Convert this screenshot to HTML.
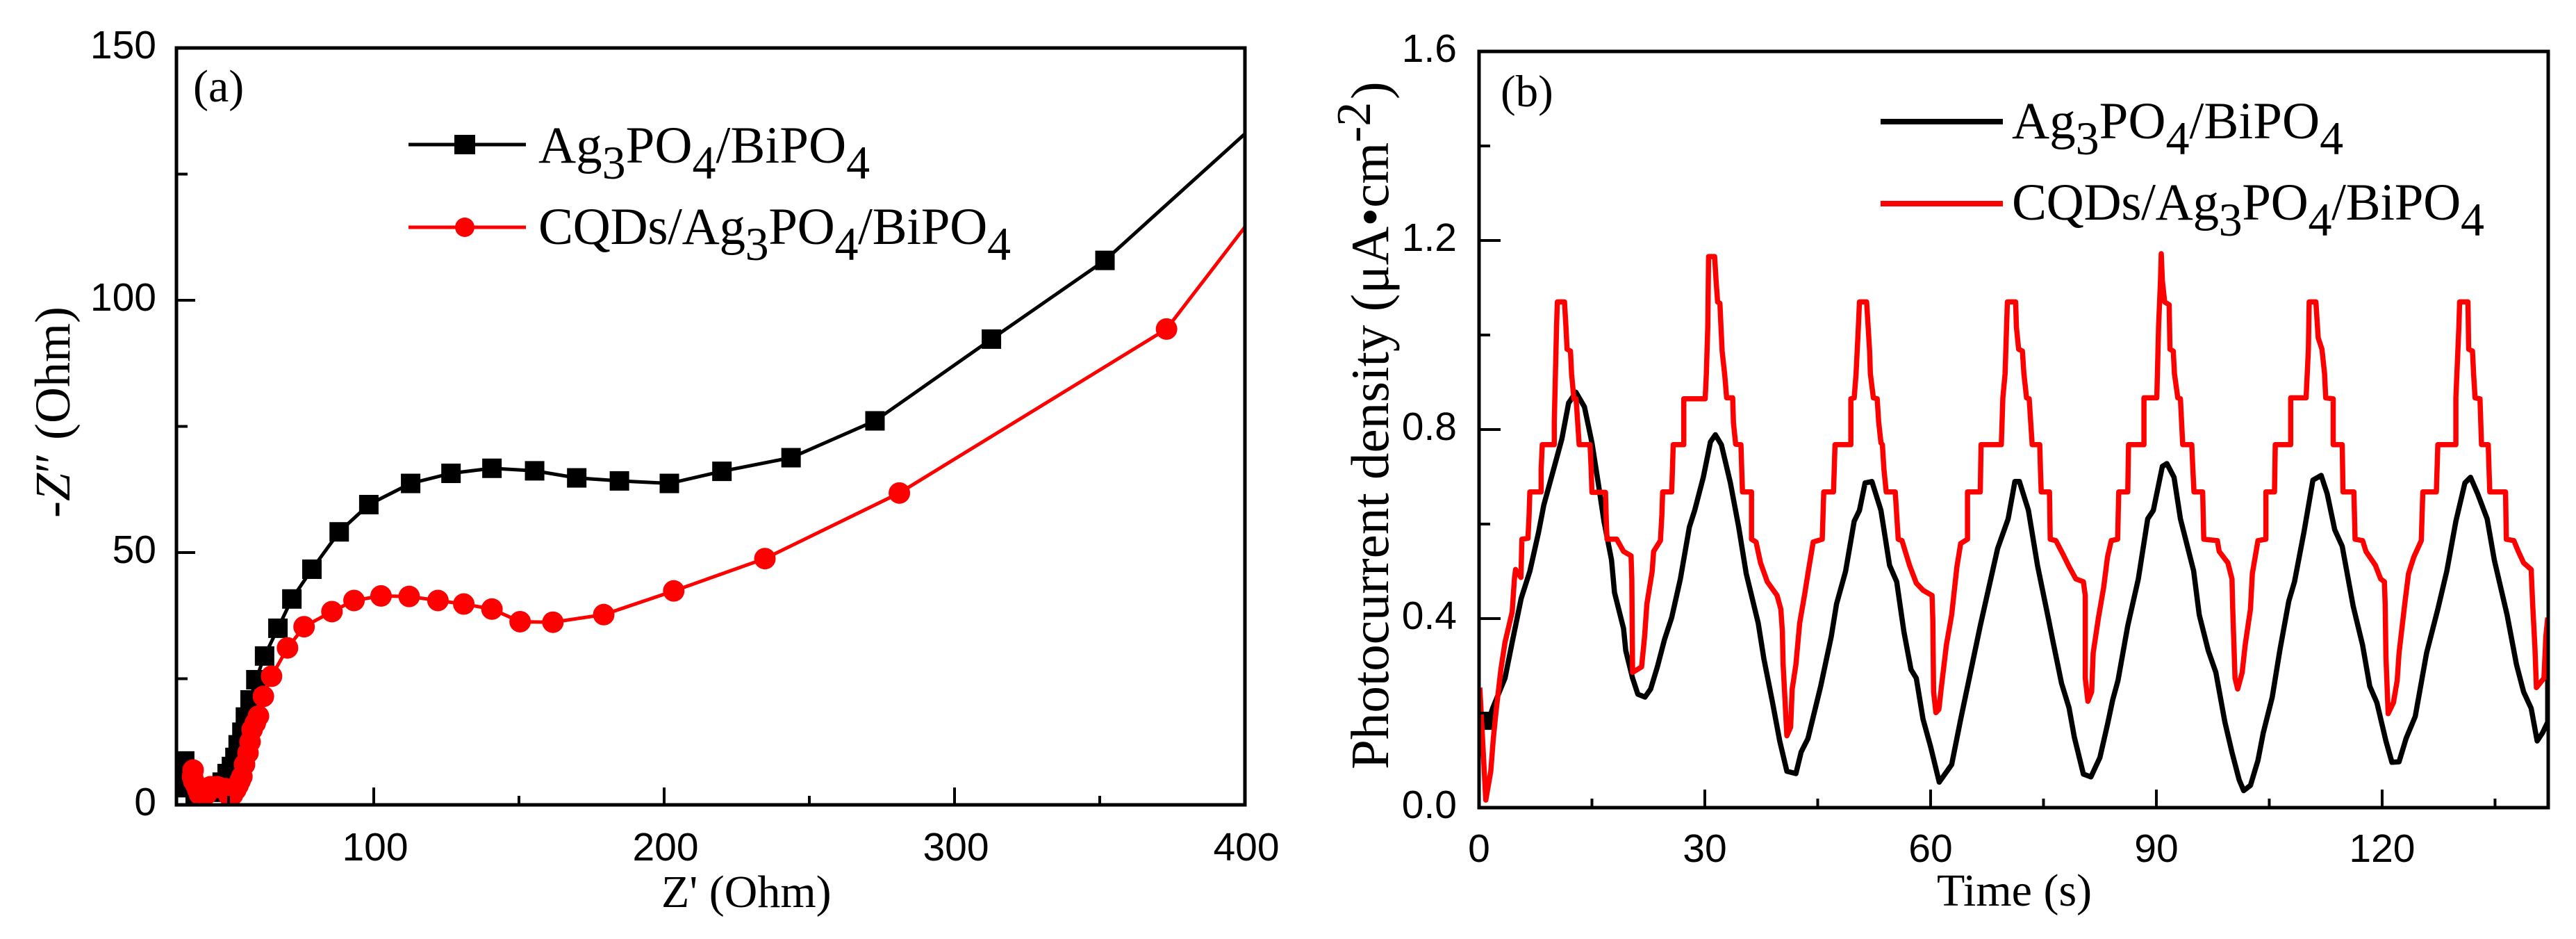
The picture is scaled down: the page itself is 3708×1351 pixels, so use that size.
<!DOCTYPE html>
<html lang="en">
<head>
<meta charset="utf-8">
<title>Impedance and photocurrent charts</title>
<style>
html,body{margin:0;padding:0;background:#fff;width:3708px;height:1351px;overflow:hidden}
svg{display:block}
.serif{font-family:"Liberation Serif",serif;fill:#000}
.sans{font-family:"Liberation Sans",sans-serif;fill:#000}
</style>
</head>
<body>
<svg id="fig" xmlns="http://www.w3.org/2000/svg" width="3708" height="1351" viewBox="0 0 3708 1351">
  <defs>
    <clipPath id="clipA"><rect x="254" y="69" width="1538" height="1089"/></clipPath>
    <clipPath id="clipB"><rect x="2129" y="74" width="1539" height="1088"/></clipPath>
  </defs>
  <rect width="3708" height="1351" fill="#fff"/>

  <g id="panelA"></g>
  <g id="panelB"></g>

  <text class="serif" x="278" y="146" font-size="66">(a)</text>
  <text class="serif" x="2160" y="153" font-size="65">(b)</text>

  <text class="serif" x="952" y="1305" font-size="66">Z' (Ohm)</text>
  <text class="serif" transform="translate(100,745) rotate(-90)" font-size="72">-<tspan font-style="italic">Z</tspan>″ (Ohm)</text>
  <text class="serif" x="2788" y="1303" font-size="66">Time (s)</text>
  <text class="serif" transform="translate(1998,1107) rotate(-90)" font-size="77">Photocurrent density (μA•cm</text>
  <text class="serif" transform="translate(1972,205) rotate(-90)" font-size="70">-2</text>
  <text class="serif" transform="translate(1998,143) rotate(-90)" font-size="77">)</text>

  <g>
    <line x1="588" y1="208" x2="757" y2="208" stroke="#000" stroke-width="5"/>
    <rect x="654" y="194" width="30" height="28" fill="#000"/>
    <text class="serif" x="775" y="234" font-size="75">Ag<tspan dy="23" font-size="68">3</tspan><tspan dy="-23">PO</tspan><tspan dy="23" font-size="68">4</tspan><tspan dy="-23">/BiPO</tspan><tspan dy="23" font-size="68">4</tspan></text>
    <line x1="588" y1="327" x2="757" y2="327" stroke="#f00" stroke-width="5"/>
    <circle cx="669" cy="327" r="14" fill="#f00"/>
    <text class="serif" x="775" y="351" font-size="75" textLength="680">CQDs/Ag<tspan dy="23" font-size="68">3</tspan><tspan dy="-23">PO</tspan><tspan dy="23" font-size="68">4</tspan><tspan dy="-23">/BiPO</tspan><tspan dy="23" font-size="68">4</tspan></text>
  </g>
  <g>
    <line x1="2707" y1="175" x2="2883" y2="175" stroke="#000" stroke-width="8"/>
    <text class="serif" x="2896" y="199" font-size="75">Ag<tspan dy="23" font-size="68">3</tspan><tspan dy="-23">PO</tspan><tspan dy="23" font-size="68">4</tspan><tspan dy="-23">/BiPO</tspan><tspan dy="23" font-size="68">4</tspan></text>
    <line x1="2707" y1="293" x2="2883" y2="293" stroke="#f00" stroke-width="8"/>
    <text class="serif" x="2896" y="316" font-size="75" textLength="680">CQDs/Ag<tspan dy="23" font-size="68">3</tspan><tspan dy="-23">PO</tspan><tspan dy="23" font-size="68">4</tspan><tspan dy="-23">/BiPO</tspan><tspan dy="23" font-size="68">4</tspan></text>
  </g>
</svg>
<script>
// ---- Panel (a) data ----
const aXMajor = [100, 200, 300, 400];
const aXMinor = [50, 150, 250, 350];
const aYMajor = [0, 50, 100, 150];
const aYMinor = [25, 75, 125];
const aBlackX = [34.9,34.2,36,38.5,41,43.8,46,47.8,49.5,51,52.2,53.3,54.6,55.8,57.4,59.4,62.4,67,71.8,78.7,88.1,98.3,112.7,126.6,140.7,155.4,169.9,184.6,201.8,219.9,243.7,272.6,312.7,351.8,420];
const aBlackY = [8.7,5.6,3.4,2,1.8,2.5,3.4,4.5,6.2,7.6,9.4,11.9,14.4,17.4,20.8,24.8,29.5,35,40.8,46.7,54.1,59.5,63.7,65.7,66.7,66.2,64.8,64.2,63.7,66.1,68.8,76.1,92.3,107.9,143.4];
const aRedX = [37.8,37.6,38,38.8,39.4,40,41.1,42.5,43.8,46,47.1,49,50.2,51.4,52.5,53.3,54,54.6,55.5,56.7,57.4,58.1,59.2,60.3,62,64.8,70.3,76,85.6,93.2,102.5,112.2,122.1,131,140.7,150.4,161.7,179.2,203.3,234.7,281,373,420];
const aRedY = [6.9,5.6,4.7,3.9,3,2.1,1.8,2.2,3.6,3.6,3.4,3.2,1.8,2,3,3.9,4.8,5.6,8,10.3,12.5,14.9,16.2,17.6,21.5,25.5,31.1,35.3,38.3,40.5,41.4,41.3,40.5,39.8,38.8,36.3,36.2,37.7,42.4,48.8,61.8,94.3,129.5];

// ---- Panel (b) data ----
const bXMajor = [0, 30, 60, 90, 120];
const bXMinor = [15, 45, 75, 105, 135];
const bYMajor = ["0.0", "0.4", "0.8", "1.2", "1.6"];
const bYMinor = [0.2, 0.6, 1.0, 1.4];
const bBlackT = [0.6,1.8,1.8,0.8,1.0,1.8,3.45,4.4,5.6,6.75,7.9,8.6,9.8,11,11.9,12.87,14,15,15.9,16.6,17.6,18,19.2,19.5,20.4,21.1,22.05,22.8,23.7,24.65,25.6,26.75,27.95,28.65,29.8,30.75,31.4,32.2,33.4,34.5,35.5,35.95,37.1,37.85,39,39.95,40.9,42.1,42.8,43.7,45.4,46.8,47.5,48.7,49.85,50.55,51.3,52.2,53.4,54.55,55.5,56.45,57.4,58.1,59,60,61.15,62.8,64,66.6,68.9,70.3,71.2,71.8,73,74.2,75.7,76.2,77.4,78.4,79.1,80.3,81.3,82.5,83.5,84.2,84.9,86.2,87.6,88.85,89.6,90.8,91.4,92.35,93.2,94.95,95.7,96.9,97.9,99.1,100.05,101,101.6,102.5,103.5,104.2,105.4,106.4,107.6,108.35,109.6,110.8,111.9,112.7,113.7,114.7,116.15,117.4,118.35,119.3,120.5,121.3,122.25,123.2,124.4,125.9,127.4,128.6,129.8,131,131.75,132.7,133.95,134.9,136.6,137.85,138.8,139.8,140.6,141.3,142,142];
const bBlackV = [0.17,0.17,0.196,0.196,0.17,0.21,0.274,0.35,0.443,0.5,0.582,0.64,0.71,0.78,0.856,0.879,0.848,0.772,0.681,0.606,0.524,0.455,0.379,0.332,0.274,0.24,0.234,0.251,0.298,0.356,0.402,0.484,0.594,0.629,0.699,0.774,0.789,0.768,0.687,0.594,0.495,0.466,0.39,0.315,0.222,0.141,0.077,0.072,0.118,0.146,0.257,0.362,0.431,0.5,0.606,0.629,0.687,0.69,0.629,0.513,0.478,0.373,0.292,0.274,0.187,0.129,0.054,0.091,0.187,0.385,0.548,0.611,0.69,0.69,0.629,0.513,0.396,0.356,0.263,0.211,0.149,0.071,0.065,0.106,0.176,0.228,0.269,0.385,0.484,0.611,0.629,0.722,0.728,0.699,0.611,0.501,0.408,0.332,0.286,0.181,0.117,0.059,0.036,0.047,0.1,0.158,0.234,0.332,0.437,0.478,0.582,0.693,0.703,0.664,0.588,0.553,0.426,0.344,0.257,0.222,0.141,0.096,0.097,0.147,0.193,0.327,0.42,0.501,0.606,0.687,0.699,0.664,0.611,0.524,0.408,0.303,0.245,0.21,0.141,0.158,0.181,0.36];
const bRedT = [0.1,0.9,1.56,1.9,2.27,2.9,3.45,4.4,4.7,4.86,5.57,5.7,6.5,6.65,6.75,8.25,8.25,8.4,10,10,10.3,10.4,11.35,11.55,11.7,12.15,12.3,12.6,12.9,13.1,13.3,14.75,14.9,15,16.8,16.9,17,18.3,19.2,20.2,20.3,20.4,21.6,22,22.3,23,23.2,24.1,24.3,24.4,25.6,25.7,25.8,27.2,27.2,30.05,30.2,30.4,30.5,31.3,31.5,31.7,32,32.3,32.65,32.9,33.7,33.8,34.1,34.8,34.9,35,36.2,36.2,36.8,37.4,38.3,39.6,40.1,40.3,40.4,40.6,40.9,41.4,41.6,42.1,42.6,43.3,43.7,44.4,45.6,45.7,45.8,47.1,47.2,47.3,49.4,49.4,49.85,50.1,50.4,50.55,51.5,51.7,51.9,52,52.4,52.9,53.1,53.4,53.6,53.8,54.1,55.3,55.7,56.2,57.2,58.1,59,60.2,60.3,60.4,60.7,61.1,61.4,62.1,62.8,63.5,64,64.9,64.9,66.6,66.7,69.4,69.6,69.9,70.1,70.2,71.3,71.4,71.7,72.2,72.4,72.75,73.1,73.5,74.5,74.6,74.7,75.8,75.9,76.65,77.6,78.4,79.3,80.3,80.55,80.55,80.9,81.4,81.6,82.3,83,83.5,84,84.85,85,86.2,86.3,88.35,88.35,90.06,90.3,90.55,90.65,90.8,91.1,91.7,91.8,92.25,92.4,92.85,93.2,93.5,94.7,94.85,95,96.15,96.3,98.1,98.35,99.5,100.05,100.15,100.45,100.8,101.4,101.8,102.5,102.75,103.5,104.55,104.55,105.7,105.8,107.85,107.85,109.9,110.2,110.3,111.2,111.5,112,112.35,112.5,113.5,113.5,114.7,114.8,116.25,116.4,117.4,117.85,119.1,119.8,120.3,120.4,120.5,120.8,121.5,122,122.25,123,123.5,124.2,125.2,125.4,127.2,127.4,129.8,129.8,130.2,130.3,131.4,131.5,132,132.15,132.35,133,133.2,134.1,134.2,134.3,136.4,136.5,137.5,138.1,138.8,139.8,140,140.3,140.5,141.5,141.75,142];
const bRedV = [0.254,0.016,0.077,0.147,0.205,0.292,0.35,0.414,0.484,0.504,0.487,0.568,0.57,0.617,0.668,0.668,0.716,0.768,0.768,0.817,1.02,1.07,1.07,1.017,0.97,0.966,0.918,0.865,0.865,0.817,0.768,0.768,0.716,0.667,0.667,0.611,0.568,0.568,0.542,0.533,0.484,0.286,0.298,0.362,0.431,0.5,0.542,0.565,0.62,0.668,0.668,0.716,0.768,0.768,0.865,0.865,0.918,1.02,1.166,1.166,1.115,1.07,1.067,0.966,0.915,0.867,0.867,0.814,0.769,0.768,0.716,0.668,0.668,0.568,0.562,0.518,0.478,0.449,0.42,0.373,0.303,0.245,0.152,0.17,0.25,0.303,0.39,0.455,0.495,0.562,0.568,0.617,0.668,0.668,0.716,0.768,0.768,0.865,0.867,0.918,1.017,1.07,1.07,1.017,0.966,0.918,0.867,0.865,0.817,0.772,0.768,0.716,0.668,0.668,0.568,0.565,0.513,0.475,0.46,0.449,0.396,0.245,0.201,0.208,0.25,0.344,0.408,0.51,0.559,0.568,0.668,0.668,0.768,0.768,0.867,0.918,1.02,1.07,1.07,1.017,0.97,0.966,0.918,0.867,0.865,0.768,0.768,0.716,0.668,0.668,0.568,0.565,0.536,0.51,0.484,0.478,0.449,0.274,0.225,0.245,0.327,0.402,0.466,0.53,0.565,0.568,0.668,0.668,0.768,0.768,0.867,0.867,1.02,1.115,1.172,1.115,1.07,1.064,0.97,0.966,0.918,0.867,0.865,0.768,0.768,0.716,0.668,0.668,0.568,0.565,0.542,0.518,0.484,0.42,0.274,0.251,0.286,0.344,0.42,0.495,0.565,0.568,0.668,0.668,0.768,0.768,0.867,0.867,0.97,1.07,1.07,0.994,0.97,0.918,0.867,0.865,0.768,0.768,0.668,0.668,0.568,0.565,0.542,0.513,0.484,0.478,0.431,0.32,0.199,0.222,0.269,0.327,0.431,0.495,0.53,0.565,0.668,0.668,0.768,0.768,0.867,1.02,1.07,1.07,0.97,0.966,0.918,0.867,0.865,0.768,0.768,0.716,0.668,0.668,0.568,0.565,0.542,0.518,0.504,0.431,0.338,0.254,0.274,0.362,0.402];

// ---- Axis functions ----
function ax(v){ return 538 + (v - 100) * 4.18; }
function ay(v){ return 1158 - v * 7.26; }
function bx(v){ return 2129 + v * 10.833; }
function by(v){ return 1162 - v * 680; }

const NS = 'http://www.w3.org/2000/svg';
function make(parent, tag, attrs){
  const el = document.createElementNS(NS, tag);
  for (const k in attrs) el.setAttribute(k, attrs[k]);
  parent.appendChild(el);
  return el;
}
function pathOf(xs, ys, fx, fy){
  return xs.map((x, i) => (i ? 'L' : 'M') + fx(x).toFixed(1) + ' ' + fy(ys[i]).toFixed(1)).join('');
}

// ---- Panel (a) ----
const pa = document.getElementById('panelA');
const aClip = make(pa, 'g', {'clip-path': 'url(#clipA)'});



const aBlackLine = make(aClip, 'path', {d: pathOf(aBlackX, aBlackY, ax, ay), fill: 'none', stroke: '#000', 'stroke-width': 5});


aBlackX.forEach((x, i) => {
  const m = make(aClip, 'rect', {x: ax(x) - 14, y: ay(aBlackY[i]) - 14, width: 28, height: 28, fill: '#000'});
  
  
});
const aRedLine = make(aClip, 'path', {d: pathOf(aRedX, aRedY, ax, ay), fill: 'none', stroke: '#f00', 'stroke-width': 5});


aRedX.forEach((x, i) => {
  const m = make(aClip, 'circle', {cx: ax(x), cy: ay(aRedY[i]), r: 15.5, fill: '#f00'});
  
  
});
const aFrame = make(pa, 'rect', {x: 254, y: 69, width: 1538, height: 1089, fill: 'none', stroke: '#000', 'stroke-width': 5});



aXMajor.forEach(v => {
  const t = make(pa, 'line', {x1: ax(v), x2: ax(v), y1: 1158, y2: 1133, stroke: '#000', 'stroke-width': 4});
  
  
  const l = make(pa, 'text', {x: ax(v) + 2, y: 1238, 'font-size': 57, 'text-anchor': 'middle', class: 'sans'});
  
  
  l.textContent = v;
});
aXMinor.forEach(v => {
  const t = make(pa, 'line', {x1: ax(v), x2: ax(v), y1: 1158, y2: 1145, stroke: '#000', 'stroke-width': 4});
  
  
});
aYMajor.forEach(v => {
  const t = make(pa, 'line', {x1: 254, x2: 281, y1: ay(v), y2: ay(v), stroke: '#000', 'stroke-width': 4});
  
  
  const l = make(pa, 'text', {x: 225, y: ay(v) + 15, 'font-size': 57, 'text-anchor': 'end', class: 'sans'});
  
  
  l.textContent = v;
});
aYMinor.forEach(v => {
  const t = make(pa, 'line', {x1: 254, x2: 270, y1: ay(v), y2: ay(v), stroke: '#000', 'stroke-width': 4});
  
  
});

// ---- Panel (b) ----
const pb = document.getElementById('panelB');
const bClip = make(pb, 'g', {'clip-path': 'url(#clipB)'});


const bBlackLine = make(bClip, 'path', {d: pathOf(bBlackT, bBlackV, bx, by), fill: 'none', stroke: '#000', 'stroke-width': 7.5, 'stroke-linejoin': 'round'});


const bRedLine = make(bClip, 'path', {d: pathOf(bRedT, bRedV, bx, by), fill: 'none', stroke: '#f00', 'stroke-width': 7.5, 'stroke-linejoin': 'round'});


const bFrame = make(pb, 'rect', {x: 2129, y: 74, width: 1539, height: 1088, fill: 'none', stroke: '#000', 'stroke-width': 5});



bXMajor.forEach(v => {
  const t = make(pb, 'line', {x1: bx(v), x2: bx(v), y1: 1162, y2: 1136, stroke: '#000', 'stroke-width': 4});
  
  
  const l = make(pb, 'text', {x: bx(v), y: 1240, 'font-size': 57, 'text-anchor': 'middle', class: 'sans'});
  
  
  l.textContent = v;
});
bXMinor.forEach(v => {
  const t = make(pb, 'line', {x1: bx(v), x2: bx(v), y1: 1162, y2: 1149, stroke: '#000', 'stroke-width': 4});
  
  
});
bYMajor.forEach(s => {
  const v = parseFloat(s);
  const t = make(pb, 'line', {x1: 2129, x2: 2160, y1: by(v), y2: by(v), stroke: '#000', 'stroke-width': 4});
  
  
  const l = make(pb, 'text', {x: 2097, y: by(v) + 15, 'font-size': 57, 'text-anchor': 'end', class: 'sans'});
  
  
  l.textContent = s;
});
bYMinor.forEach(v => {
  const t = make(pb, 'line', {x1: 2129, x2: 2145, y1: by(v), y2: by(v), stroke: '#000', 'stroke-width': 4});
  
  
});
</script>
</body>
</html>
